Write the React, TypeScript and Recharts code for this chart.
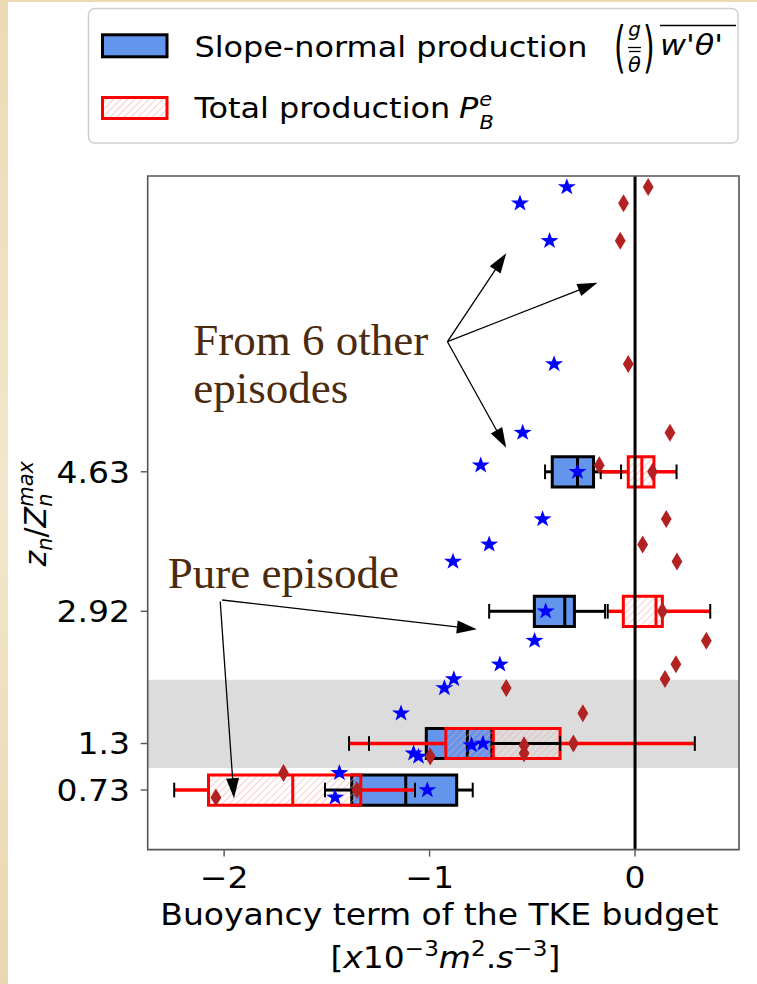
import React from 'react';
import {
  ComposedChart,
  XAxis,
  YAxis,
  Scatter,
  ReferenceArea,
  ReferenceLine,
  ReferenceDot,
} from 'recharts';

// ---------- figure layout (page pixels) ----------
const FIG_W = 757;
const FIG_H = 984;
const PLOT = { left: 147.7, right: 739, top: 176, bottom: 849.6 };
const Y_AXIS_W = 140;
const X_AXIS_H = 100;

const SANS = "'DejaVu Sans', sans-serif";
const SERIF = "'Liberation Serif', 'Times New Roman', serif";
const SX = 1.1; // horizontal stretch of the figure text
const BROWN = '#4b2a0d';
const BLUE_FILL = '#6495ed';
const RED = '#ff0000';

// ---------- axes ----------
const X_DOMAIN: [number, number] = [-2.372, 0.506];
const Y_DOMAIN: [number, number] = [0, 8.255];
const X_TICKS = [-2, -1, 0];
const Y_TICKS = [0.73, 1.3, 2.92, 4.63];
const Y_TICK_LABELS = ['0.73', '1.3', '2.92', '4.63'];

// ---------- single values from the six other episodes ----------
const otherHeight = [8.12, 7.92, 7.46, 5.95, 5.11, 4.71, 4.05, 3.74, 3.53, 2.56, 2.27, 2.09, 1.98, 1.67, 1.28, 1.18, 1.14, 0.94, 0.64];
const otherSlopeNormal = [-0.332, -0.56, -0.416, -0.394, -0.547, -0.751, -0.45, -0.71, -0.886, -0.489, -0.658, -0.882, -0.928, -1.139, -0.796, -1.078, -1.054, -1.439, -1.46];
const otherTotal = [0.064, -0.056, -0.072, -0.033, 0.17, -0.174, 0.152, 0.037, 0.204, 0.347, 0.199, 0.146, -0.627, -0.254, -0.54, -0.54, -0.997, -1.711, -2.04];

// ---------- pure episode ----------
const pureHeight = [4.63, 2.92, 1.3, 0.73];
const pureSlopeNormal = [-0.28, -0.435, -0.74, -1.011];
const pureTotal = [0.085, 0.133, -0.3, -1.354];

// box statistics (whisker low, q1, median, q3, whisker high)
const slopeLow = [-0.438, -0.71, -1.295, -1.509];
const slopeQ1 = [-0.403, -0.49, -1.016, -1.379];
const slopeMed = [-0.28, -0.342, -0.816, -1.116];
const slopeQ3 = [-0.202, -0.295, -0.697, -0.868];
const slopeHigh = [-0.068, -0.146, -0.365, -0.79];

const totalLow = [-0.167, -0.133, -1.392, -2.243];
const totalQ1 = [-0.033, -0.057, -0.921, -2.076];
const totalMed = [0.033, 0.102, -0.69, -1.666];
const totalQ3 = [0.092, 0.133, -0.365, -1.335];
const totalHigh = [0.202, 0.366, 0.291, -1.071];

const BOX_HALF = 0.185;
const CAP_HALF = 0.09;

// shaded layer
const bandLow = 1.0;
const bandHigh = 2.08;

// ---------- annotations ----------
const otherLabelLines = ['From 6 other', 'episodes'];
const otherLabelX = -2.15;
const otherLabelY = [6.061, 5.473];
const otherArrowFrom = { x: -0.913, y: 6.224 };
const otherArrowTo = [
  { x: -0.627, y: 7.308 },
  { x: -0.183, y: 6.947 },
  { x: -0.627, y: 4.925 },
];
const pureLabel = 'Pure episode';
const pureLabelAt = { x: -2.274, y: 3.206 };
const pureArrows = [
  { from: { x: -2.01, y: 3.059 }, to: { x: -0.77, y: 2.7 } },
  { from: { x: -2.019, y: 3.04 }, to: { x: -1.952, y: 0.629 } },
];

const otherSlopeData = otherHeight.map((h, i) => ({ x: otherSlopeNormal[i], h }));
const otherTotalData = otherHeight.map((h, i) => ({ x: otherTotal[i], h }));
const pureSlopeData = pureHeight.map((h, i) => ({ x: pureSlopeNormal[i], h }));
const pureTotalData = pureHeight.map((h, i) => ({ x: pureTotal[i], h }));

// ---------- marker shapes ----------
function StarMark(props: any) {
  const { cx, cy } = props;
  if (cx == null || cy == null) return null;
  const R = 8.8;
  const r = 3.5;
  let d = '';
  for (let k = 0; k < 10; k++) {
    const ang = -Math.PI / 2 + (k * Math.PI) / 5;
    const rad = k % 2 === 0 ? R : r;
    const px = cx + rad * Math.cos(ang) * 1.08;
    const py = cy + rad * Math.sin(ang);
    d += (k === 0 ? 'M' : 'L') + px.toFixed(2) + ',' + py.toFixed(2);
  }
  return <path d={d + 'Z'} fill="#0000ff" />;
}

function ThinDiamond(props: any) {
  const { cx, cy } = props;
  if (cx == null || cy == null) return null;
  const w = 5.4;
  const h = 9;
  return (
    <path
      d={`M${cx},${cy - h}L${cx + w},${cy}L${cx},${cy + h}L${cx - w},${cy}Z`}
      fill="#b22222"
    />
  );
}

function ArrowShape(props: any) {
  const x1 = Number(props.x1);
  const y1 = Number(props.y1);
  const x2 = Number(props.x2);
  const y2 = Number(props.y2);
  const dx = x2 - x1;
  const dy = y2 - y1;
  const L = Math.hypot(dx, dy) || 1;
  const ux = dx / L;
  const uy = dy / L;
  const hl = 20;
  const hw = 6.5;
  const bx = x2 - ux * hl;
  const by = y2 - uy * hl;
  const pts = `${x2},${y2} ${bx - uy * hw},${by + ux * hw} ${bx + uy * hw},${by - ux * hw}`;
  return (
    <g>
      <line x1={x1} y1={y1} x2={bx + ux * 2} y2={by + uy * 2} stroke="#000" strokeWidth={1.3} />
      <polygon points={pts} fill="#000" />
    </g>
  );
}

function serifLabel(text: string) {
  return (p: any) => (
    <text x={p.cx} y={p.cy} fontFamily={SERIF} fontSize={45} fill={BROWN}>
      {text}
    </text>
  );
}

// ---------- text helpers ----------
function SText(props: {
  x: number;
  y: number;
  size: number;
  anchor?: 'start' | 'middle' | 'end';
  italic?: boolean;
  children: React.ReactNode;
}) {
  const { x, y, size, anchor = 'start', italic = false, children } = props;
  return (
    <text
      transform={`translate(${x} ${y}) scale(${SX} 1)`}
      fontSize={size}
      fontFamily={SANS}
      fontStyle={italic ? 'italic' : 'normal'}
      textAnchor={anchor}
      fill="#000"
    >
      {children}
    </text>
  );
}

const fmtX = (v: number) => (v < 0 ? `\u2212${Math.abs(v)}` : `${v}`);

function XTick(props: any) {
  const { x, payload } = props;
  return (
    <SText x={x} y={PLOT.bottom + 38.4} size={30} anchor="middle">
      {fmtX(payload.value)}
    </SText>
  );
}

function YTick(props: any) {
  const { y, payload } = props;
  const idx = Y_TICKS.indexOf(payload.value);
  const label = idx >= 0 ? Y_TICK_LABELS[idx] : String(payload.value);
  return (
    <SText x={PLOT.left - 17.7} y={y + 10.9} size={30} anchor="end">
      {label}
    </SText>
  );
}

function XTitle() {
  const cx = (PLOT.left + PLOT.right) / 2;
  return (
    <g>
      <SText x={cx - 4} y={PLOT.bottom + 75.4} size={30} anchor="middle">
        Buoyancy term of the TKE budget
      </SText>
      <SText x={cx + 2} y={PLOT.bottom + 118.4} size={30} anchor="middle">
        <tspan>[</tspan>
        <tspan fontStyle="italic">x</tspan>
        <tspan>10</tspan>
        <tspan fontSize={21} dy={-12}>{'\u22123'}</tspan>
        <tspan fontStyle="italic" dy={12}>m</tspan>
        <tspan fontSize={21} dy={-12}>2</tspan>
        <tspan dy={12}>.</tspan>
        <tspan fontStyle="italic">s</tspan>
        <tspan fontSize={21} dy={-12}>{'\u22123'}</tspan>
        <tspan dy={12}>]</tspan>
      </SText>
    </g>
  );
}

function YTitle() {
  return (
    <text
      transform={`translate(46 ${(PLOT.top + PLOT.bottom) / 2 + 1}) rotate(-90)`}
      fontSize={30}
      fontFamily={SANS}
      textAnchor="middle"
      fill="#000"
    >
      <tspan fontStyle="italic">z</tspan>
      <tspan fontSize={21} fontStyle="italic" dy={6}>n</tspan>
      <tspan dy={-6}>/</tspan>
      <tspan fontStyle="italic">Z</tspan>
      <tspan fontSize={21} fontStyle="italic" dy={6}>n</tspan>
      <tspan fontSize={21} fontStyle="italic" dx={-13.3} dy={-19}>max</tspan>
    </text>
  );
}

function LegendBox() {
  return (
    <svg
      width={FIG_W}
      height={150}
      style={{ position: 'absolute', left: 0, top: 0 }}
    >
      <rect x={88.5} y={8.5} width={649.5} height={134.5} rx={6} fill="#fff" stroke="#d0d0d0" strokeWidth={1.5} />
      <rect x={102.5} y={34.8} width={64.5} height={22} fill={BLUE_FILL} stroke="#000" strokeWidth={3} />
      <rect x={102.5} y={97.5} width={64.5} height={21} fill="url(#pbHatch)" stroke={RED} strokeWidth={3} />
      <SText x={194.4} y={56.7} size={29}>Slope-normal production</SText>
      {/* (g / theta-bar) with overlined w'theta' */}
      <text transform="translate(614 66) scale(1 1.85)" fontSize={30} fontFamily={SANS} fill="#000">(</text>
      <text x={634.5} y={36} fontSize={20} fontFamily={SANS} fontStyle="italic" textAnchor="middle" fill="#000">g</text>
      <line x1={628} x2={641} y1={47.5} y2={47.5} stroke="#000" strokeWidth={1.3} />
      <line x1={629} x2={640.5} y1={51.5} y2={51.5} stroke="#000" strokeWidth={1.3} />
      <text x={634.5} y={72} fontSize={21} fontFamily={SANS} fontStyle="italic" textAnchor="middle" fill="#000">θ</text>
      <text transform="translate(643 66) scale(1 1.85)" fontSize={30} fontFamily={SANS} fill="#000">)</text>
      <line x1={660} x2={736} y1={25.5} y2={25.5} stroke="#000" strokeWidth={1.4} />
      <SText x={660} y={55} size={29} italic>{"w'θ'"}</SText>
      <SText x={194.4} y={118.3} size={29}>Total production</SText>
      <SText x={459} y={118.3} size={29} italic>
        <tspan>P</tspan>
        <tspan fontSize={19} dx={1} dy={-12.3}>e</tspan>
        <tspan fontSize={19} dx={-11.5} dy={23}>B</tspan>
      </SText>
    </svg>
  );
}

export default function App() {
  const blueParts: React.ReactNode[] = [];
  const redParts: React.ReactNode[] = [];
  const whiskerParts: React.ReactNode[] = [];
  const capParts: React.ReactNode[] = [];

  pureHeight.forEach((h, i) => {
    // slope-normal box
    blueParts.push(
      <ReferenceArea key={`bb${i}`} x1={slopeQ1[i]} x2={slopeQ3[i]} y1={h - BOX_HALF} y2={h + BOX_HALF} fill={BLUE_FILL} fillOpacity={1} stroke="#000" strokeWidth={3} zIndex={120} />,
      <ReferenceLine key={`bm${i}`} segment={[{ x: slopeMed[i], y: h - BOX_HALF }, { x: slopeMed[i], y: h + BOX_HALF }]} stroke="#000" strokeWidth={3} zIndex={130} />,
    );
    // total production box
    redParts.push(
      <ReferenceArea key={`rb${i}`} x1={totalQ1[i]} x2={totalQ3[i]} y1={h - BOX_HALF} y2={h + BOX_HALF} fill="url(#pbHatch)" fillOpacity={1} stroke={RED} strokeWidth={3} zIndex={150} />,
      <ReferenceLine key={`rm${i}`} segment={[{ x: totalMed[i], y: h - BOX_HALF }, { x: totalMed[i], y: h + BOX_HALF }]} stroke={RED} strokeWidth={3} zIndex={152} />,
    );
    // whiskers: black under red
    whiskerParts.push(
      <ReferenceLine key={`bwl${i}`} segment={[{ x: slopeLow[i], y: h }, { x: slopeQ1[i], y: h }]} stroke="#000" strokeWidth={3} zIndex={155} />,
      <ReferenceLine key={`bwh${i}`} segment={[{ x: slopeQ3[i], y: h }, { x: slopeHigh[i], y: h }]} stroke="#000" strokeWidth={3} zIndex={155} />,
      <ReferenceLine key={`rwl${i}`} segment={[{ x: totalLow[i], y: h }, { x: totalQ1[i], y: h }]} stroke={RED} strokeWidth={3.5} zIndex={158} />,
      <ReferenceLine key={`rwh${i}`} segment={[{ x: totalQ3[i], y: h }, { x: totalHigh[i], y: h }]} stroke={RED} strokeWidth={3.5} zIndex={158} />,
    );
    // whisker caps
    capParts.push(
      <ReferenceLine key={`bcl${i}`} segment={[{ x: slopeLow[i], y: h - CAP_HALF }, { x: slopeLow[i], y: h + CAP_HALF }]} stroke="#000" strokeWidth={2} zIndex={165} />,
      <ReferenceLine key={`bch${i}`} segment={[{ x: slopeHigh[i], y: h - CAP_HALF }, { x: slopeHigh[i], y: h + CAP_HALF }]} stroke="#000" strokeWidth={2} zIndex={165} />,
      <ReferenceLine key={`rcl${i}`} segment={[{ x: totalLow[i], y: h - CAP_HALF }, { x: totalLow[i], y: h + CAP_HALF }]} stroke="#000" strokeWidth={2} zIndex={165} />,
      <ReferenceLine key={`rch${i}`} segment={[{ x: totalHigh[i], y: h - CAP_HALF }, { x: totalHigh[i], y: h + CAP_HALF }]} stroke="#000" strokeWidth={2} zIndex={165} />,
    );
  });

  return (
    <div
      style={{
        position: 'absolute',
        left: 0,
        top: 0,
        width: FIG_W,
        height: FIG_H,
        background: 'linear-gradient(180deg, #ecdab4 0%, #f2e6cc 50%, #ead7b0 100%)',
        overflow: 'hidden',
      }}
    >
      <div style={{ position: 'absolute', left: 8, top: 2, right: 0, bottom: 0, background: '#fff' }} />
      <svg width={0} height={0} style={{ position: 'absolute' }}>
        <defs>
          <pattern id="pbHatch" patternUnits="userSpaceOnUse" width={5} height={5} patternTransform="rotate(45)">
            <line x1={0} y1={0} x2={0} y2={5} stroke="#f6a3a3" strokeWidth={1.1} />
          </pattern>
        </defs>
      </svg>
      <div style={{ position: 'absolute', left: 0, top: 0 }}>
        <ComposedChart
          width={FIG_W}
          height={FIG_H}
          margin={{
            top: PLOT.top,
            right: FIG_W - PLOT.right,
            bottom: FIG_H - PLOT.bottom - X_AXIS_H,
            left: PLOT.left - Y_AXIS_W,
          }}
        >
          <XAxis
            type="number"
            dataKey="x"
            domain={X_DOMAIN}
            allowDataOverflow
            ticks={X_TICKS}
            height={X_AXIS_H}
            axisLine={false}
            tickLine={{ stroke: '#555', strokeWidth: 1.4 }}
            tickSize={7}
            tick={<XTick />}
            label={{ content: () => <XTitle /> }}
          />
          <YAxis
            type="number"
            dataKey="h"
            domain={Y_DOMAIN}
            allowDataOverflow
            ticks={Y_TICKS}
            width={Y_AXIS_W}
            axisLine={false}
            tickLine={{ stroke: '#555', strokeWidth: 1.4 }}
            tickSize={7}
            tick={<YTick />}
            label={{ content: () => <YTitle /> }}
          />

          <ReferenceArea x1={X_DOMAIN[0]} x2={X_DOMAIN[1]} y1={bandLow} y2={bandHigh} fill="#dcdcdc" fillOpacity={1} stroke="none" zIndex={100} />

          {blueParts}
          {redParts}
          {whiskerParts}
          {capParts}

          <ReferenceLine x={0} stroke="#000" strokeWidth={3} zIndex={170} />

          <Scatter data={otherSlopeData} shape={<StarMark />} isAnimationActive={false} zIndex={600} />
          <Scatter data={pureSlopeData} shape={<StarMark />} isAnimationActive={false} zIndex={600} />
          <Scatter data={otherTotalData} shape={<ThinDiamond />} isAnimationActive={false} zIndex={600} />
          <Scatter data={pureTotalData} shape={<ThinDiamond />} isAnimationActive={false} zIndex={600} />

          {otherArrowTo.map((t, i) => (
            <ReferenceLine key={`oa${i}`} segment={[otherArrowFrom, t]} shape={ArrowShape} zIndex={650} />
          ))}
          {pureArrows.map((a, i) => (
            <ReferenceLine key={`pa${i}`} segment={[a.from, a.to]} shape={ArrowShape} zIndex={650} />
          ))}

          {otherLabelLines.map((t, i) => (
            <ReferenceDot key={`ol${i}`} x={otherLabelX} y={otherLabelY[i]} r={0} shape={serifLabel(t)} zIndex={660} />
          ))}
          <ReferenceDot x={pureLabelAt.x} y={pureLabelAt.y} r={0} shape={serifLabel(pureLabel)} zIndex={660} />

          <ReferenceArea x1={X_DOMAIN[0]} x2={X_DOMAIN[1]} y1={Y_DOMAIN[0]} y2={Y_DOMAIN[1]} fill="none" stroke="#555" strokeWidth={1.6} zIndex={700} />
        </ComposedChart>
      </div>
      <LegendBox />
    </div>
  );
}
